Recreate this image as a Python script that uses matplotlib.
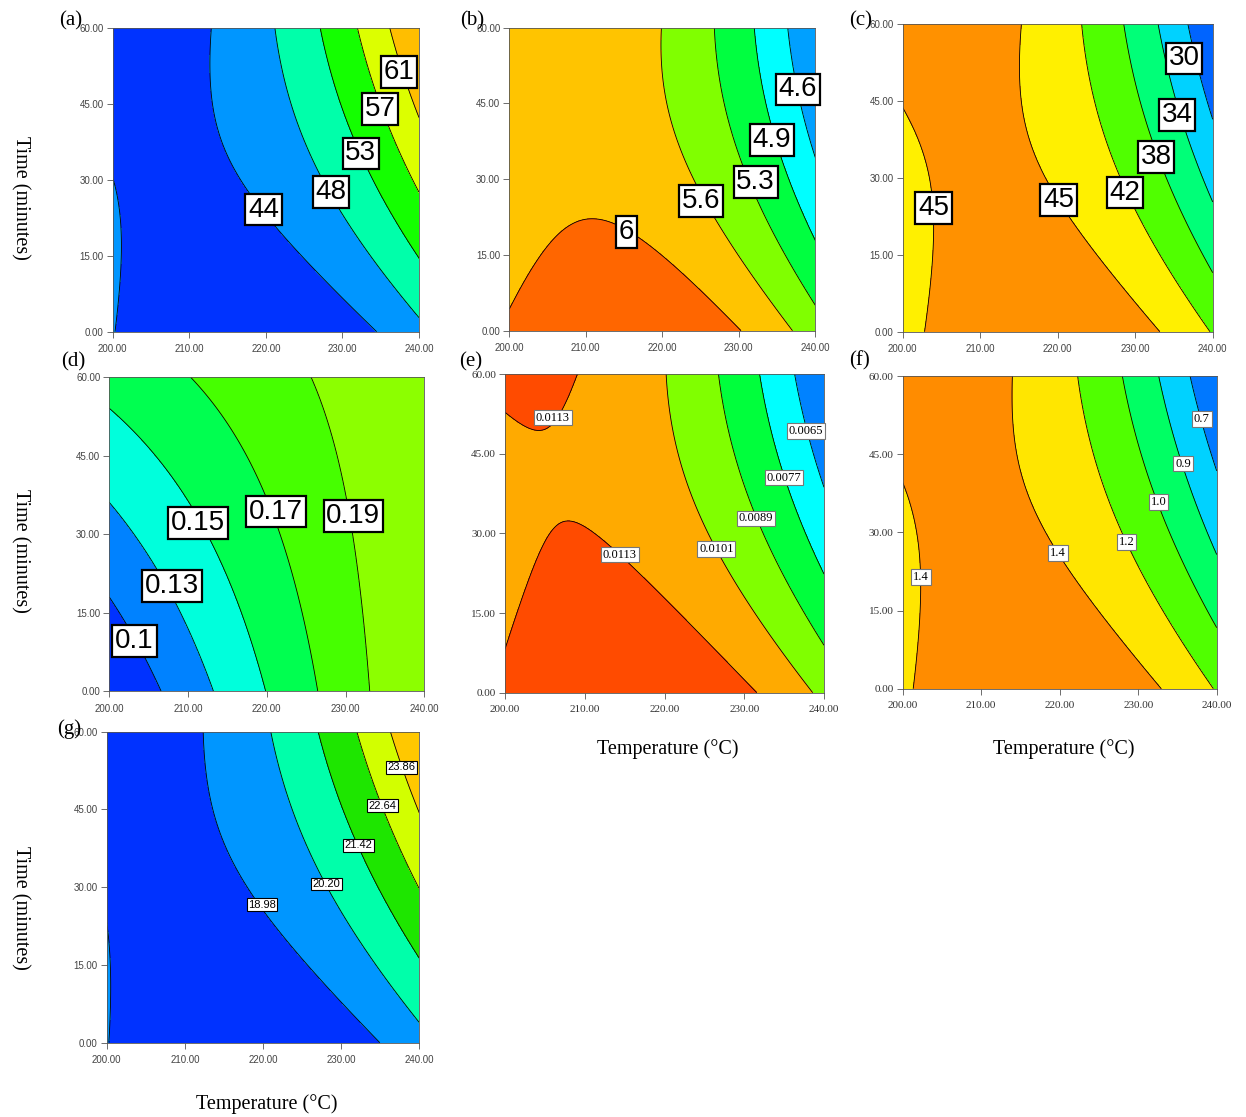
import numpy as np
import matplotlib
matplotlib.use("Agg")
import matplotlib.pyplot as plt

# ---------------- data ----------------
# Contour levels of each panel, and points (Temperature degC, Time min) lying on each contour line.
a_levels = [43.9, 48.2, 52.5, 56.8, 61.1]
a_T = [[200.0, 201.0, 200.35, 212.5, 213.1, 217.9, 222.3, 228.4, 234.0],
       [221.2, 223.2, 226.6, 231.0, 235.3, 240.0],
       [227.2, 229.7, 233.2, 234.5, 240.0],
       [232.1, 234.9, 237.5, 240.0],
       [236.3, 237.4, 240.0]]
a_t = [[31.3, 20.7, 0.0, 60.0, 45.7, 29.3, 19.4, 9.5, 0.0],
       [60.0, 45.7, 32.6, 19.4, 12.8, 3.0],
       [60.0, 45.7, 32.6, 26.0, 14.8],
       [60.0, 43.9, 35.9, 28.0],
       [60.0, 51.3, 43.1]]
a_colors = ["#0033ff", "#0096ff", "#00ffaa", "#14ff00", "#dcff00", "#ffbe00"]
a_lab_T = [237.4, 234.9, 232.4, 228.5, 219.7]
a_lab_t = [51.3, 43.9, 35.2, 27.6, 24.1]
a_lab_s = ["61", "57", "53", "48", "44"]

b_levels = [4.58, 4.93, 5.28, 5.63, 5.98]
b_T = [[236.3, 237.7, 238.9, 240.0],
       [231.9, 233.4, 234.3, 237.1, 240.0],
       [226.8, 229.3, 232.2, 234.5, 240.0],
       [219.9, 220.1, 223.2, 225.1, 227.1, 232.3, 237.0],
       [200.0, 204.0, 210.3, 212.7, 215.3, 218.0, 223.6, 230.2]]
b_t = [[60.0, 47.8, 39.1, 33.1],
       [60.0, 45.7, 37.8, 28.5, 17.3],
       [60.0, 45.7, 29.5, 19.3, 5.1],
       [60.0, 45.7, 30.5, 25.7, 22.6, 11.4, 0.0],
       [5.7, 14.0, 22.2, 21.8, 19.5, 16.6, 8.7, 0.0]]
b_colors = ["#00a0ff", "#00ffff", "#00ff40", "#80ff00", "#ffc400", "#ff6600"]
b_lab_T = [237.7, 234.3, 232.2, 225.1, 215.3]
b_lab_t = [47.8, 37.8, 29.5, 25.7, 19.5]
b_lab_s = ["4.6", "4.9", "5.3", "5.6", "6"]

c_levels = [30.4, 34.1, 37.8, 41.5, 45.2]
c_T = [[236.6, 238.4, 240.0],
       [233.0, 234.9, 237.5, 240.0],
       [228.5, 230.2, 233.2, 240.0],
       [223.1, 224.0, 227.6, 232.8, 239.7],
       [200.0, 202.2, 203.1, 204.0, 203.0, 215.5, 215.4, 217.7, 222.0, 228.9, 233.3]]
c_t = [[60.0, 51.7, 40.6],
       [60.0, 48.4, 35.4, 25.0],
       [60.0, 45.2, 32.2, 11.4],
       [60.0, 48.4, 32.2, 15.9, 0.0],
       [43.9, 38.7, 25.7, 19.2, 0.0, 60.0, 45.2, 32.2, 22.4, 7.5, 0.0]]
c_colors = ["#0064ff", "#00d2ff", "#00ff78", "#50ff00", "#fff000", "#ff9100"]
c_lab_T = [236.3, 235.4, 232.7, 228.7, 220.1, 204.0]
c_lab_t = [53.3, 42.3, 34.1, 27.1, 25.7, 24.1]
c_lab_s = ["30", "34", "38", "42", "45", "45"]

d_levels = [0.11, 0.13, 0.15, 0.17, 0.19]
d_T = [[200.0, 203.0, 206.6],
       [200.0, 205.6, 209.8, 213.3],
       [200.0, 206.4, 211.5, 215.7, 219.9],
       [210.0, 215.7, 219.6, 222.9, 226.6],
       [225.7, 228.4, 231.0, 233.2]]
d_t = [[17.7, 12.3, 0.0],
       [35.6, 25.1, 9.1, 0.0],
       [53.4, 44.8, 34.6, 18.7, 0.0],
       [60.0, 50.6, 37.8, 21.9, 0.0],
       [60.0, 47.4, 28.2, 0.0]]
d_colors = ["#0032ff", "#0082ff", "#00ffdc", "#00ff50", "#46ff00", "#8cff00"]
d_lab_T = [211.3, 221.2, 231.0, 208.0, 203.2]
d_lab_t = [32.1, 34.3, 33.5, 20.1, 9.6]
d_lab_s = ["0.15", "0.17", "0.19", "0.13", "0.1"]

e_levels = [0.0065, 0.0077, 0.0089, 0.0101, 0.0113]
e_T = [[236.3, 238.2, 240.0],
       [231.8, 234.1, 237.0, 240.0],
       [226.8, 228.6, 232.4, 240.0],
       [220.2, 220.4, 223.6, 229.9, 238.6],
       [200.0, 204.2, 207.3, 209.4, 200.0, 202.7, 208.2, 213.2, 219.4, 225.7, 231.6]]
e_t = [[60.0, 46.9, 37.5],
       [60.0, 46.9, 34.4, 21.5],
       [60.0, 46.9, 31.3, 8.7],
       [60.0, 50.1, 34.4, 18.7, 0.0],
       [51.7, 49.1, 53.8, 60.0, 8.7, 20.0, 30.1, 26.9, 18.7, 9.3, 0.0]]
e_colors = ["#0082ff", "#00ffff", "#00ff3c", "#80ff00", "#ffaa00", "#ff4b00"]
e_lab_T = [206.0, 237.7, 235.0, 231.5, 226.5, 214.4]
e_lab_t = [51.8, 49.3, 40.5, 32.8, 27.1, 26.0]
e_lab_s = ["0.0113", "0.0065", "0.0077", "0.0089", "0.0101", "0.0113"]

f_levels = [0.72, 0.88, 1.04, 1.20, 1.36]
f_T = [[236.5, 238.3, 240.0],
       [232.6, 234.9, 240.0],
       [227.9, 230.2, 233.2, 240.0],
       [222.2, 223.9, 228.5, 233.6, 239.6],
       [200.0, 201.8, 202.3, 201.3, 214.1, 214.1, 217.1, 223.0, 229.4, 233.3]]
f_t = [[60.0, 50.3, 41.3],
       [60.0, 47.1, 25.3],
       [60.0, 47.1, 34.3, 11.9],
       [60.0, 47.1, 29.2, 11.9, 0.0],
       [38.8, 29.8, 21.5, 0.0, 60.0, 47.1, 31.1, 18.3, 6.8, 0.0]]
f_colors = ["#0078ff", "#00d2ff", "#00ff64", "#50ff00", "#ffe600", "#ff8c00"]
f_lab_T = [238.1, 235.7, 232.6, 228.5, 219.8, 202.3]
f_lab_t = [51.8, 43.2, 35.8, 28.2, 26.0, 21.5]
f_lab_s = ["0.7", "0.9", "1.0", "1.2", "1.4", "1.4"]

g_levels = [18.98, 20.20, 21.42, 22.64, 23.86]
g_T = [[200.1, 200.4, 200.4, 212.5, 213.2, 216.2, 220.0, 226.9, 234.8],
       [221.0, 223.0, 226.9, 233.3, 240.0],
       [227.1, 229.4, 233.3, 240.0],
       [232.0, 234.1, 240.0],
       [236.2, 238.0, 240.0]]
g_t = [[21.4, 11.8, 0.0, 60.0, 47.1, 34.3, 25.9, 13.1, 0.0],
       [60.0, 47.1, 34.3, 18.2, 4.1],
       [60.0, 47.1, 34.3, 15.9],
       [60.0, 50.4, 29.5],
       [60.0, 53.6, 43.9]]
g_colors = ["#0032ff", "#0096ff", "#00ffaa", "#1ee600", "#d2ff00", "#ffc800"]
g_lab_T = [237.7, 235.3, 232.2, 228.1, 219.9]
g_lab_t = [53.1, 45.7, 38.1, 30.6, 26.6]
g_lab_s = ["23.86", "22.64", "21.42", "20.20", "18.98"]

x_ticks = [200, 210, 220, 230, 240]
y_ticks = [0, 15, 30, 45, 60]

# ---------------- helpers ----------------
def design(T, t):
    x = (np.asarray(T, dtype=float) - 220.0) / 20.0
    y = (np.asarray(t, dtype=float) - 30.0) / 30.0
    return np.stack([np.ones_like(x), x, y, x * y, x * x, y * y], axis=-1)


def fit_surface(levels, Ts, ts):
    TT, tt, zz = [], [], []
    for L, Tl, tl in zip(levels, Ts, ts):
        TT += list(Tl)
        tt += list(tl)
        zz += [L] * len(Tl)
    coef, *_ = np.linalg.lstsq(design(TT, tt), np.array(zz), rcond=None)
    return coef


W, H = 1246, 1117
fig = plt.figure(figsize=(W / 100, H / 100), dpi=100)

BIG = dict(fontsize=20, family="Liberation Sans",
           bbox=dict(boxstyle="square,pad=0.1", fc="white", ec="black", lw=1.6))
SERIF = dict(fontsize=9, family="Liberation Serif",
             bbox=dict(boxstyle="square,pad=0.15", fc="white", ec="#777777", lw=0.8))
SMALL = dict(fontsize=8, family="Liberation Sans",
             bbox=dict(boxstyle="square,pad=0.12", fc="white", ec="black", lw=0.8))

panels = [
    ("(a)", (112.7, 27.7, 419.0, 331.7), a_levels, a_T, a_t, a_colors, a_lab_T, a_lab_t, a_lab_s, BIG, "sans"),
    ("(b)", (509.3, 27.7, 815.3, 330.7), b_levels, b_T, b_t, b_colors, b_lab_T, b_lab_t, b_lab_s, BIG, "sans"),
    ("(c)", (902.7, 24.0, 1212.7, 331.7), c_levels, c_T, c_t, c_colors, c_lab_T, c_lab_t, c_lab_s, BIG, "sans"),
    ("(d)", (109.3, 377.3, 424.3, 691.0), d_levels, d_T, d_t, d_colors, d_lab_T, d_lab_t, d_lab_s, BIG, "sans"),
    ("(e)", (505.0, 374.0, 824.0, 692.7), e_levels, e_T, e_t, e_colors, e_lab_T, e_lab_t, e_lab_s, SERIF, "serif"),
    ("(f)", (902.7, 376.0, 1216.7, 688.7), f_levels, f_T, f_t, f_colors, f_lab_T, f_lab_t, f_lab_s, SERIF, "serif"),
    ("(g)", (106.7, 731.7, 419.3, 1042.7), g_levels, g_T, g_t, g_colors, g_lab_T, g_lab_t, g_lab_s, SMALL, "sans"),
]
letter_pos = [(71, 21), (472, 21), (861, 21), (73, 362), (471, 362), (860, 361), (69, 729)]

Tg = np.linspace(200, 240, 301)
tg = np.linspace(0, 60, 301)
TT, tt = np.meshgrid(Tg, tg)

for (letter, box, lv, Ts, ts, cols, lT, lt, ls, lstyle, tfont), lp in zip(panels, letter_pos):
    x0, y0, x1, y1 = box
    ax = fig.add_axes([x0 / W, 1 - y1 / H, (x1 - x0) / W, (y1 - y0) / H])
    coef = fit_surface(lv, Ts, ts)
    Z = design(TT, tt) @ coef
    lo = min(Z.min(), min(lv)) - 1.0
    hi = max(Z.max(), max(lv)) + 1.0
    ax.contourf(TT, tt, Z, levels=[lo] + list(lv) + [hi], colors=cols)
    ax.contour(TT, tt, Z, levels=list(lv), colors="black", linewidths=0.6)
    for T, t, s in zip(lT, lt, ls):
        ax.text(T, t, s, ha="center", va="center", zorder=5, **lstyle)
    ax.set_xlim(200, 240)
    ax.set_ylim(0, 60)
    ax.set_xticks(x_ticks)
    ax.set_yticks(y_ticks)
    ax.set_xticklabels(["%.2f" % v for v in x_ticks])
    ax.set_yticklabels(["%.2f" % v for v in y_ticks])
    if tfont == "serif":
        fam, fs, col = "Liberation Serif", 8, "#333333"
    else:
        fam, fs, col = "Liberation Sans", 7, "#444444"
    for lab in ax.get_xticklabels() + ax.get_yticklabels():
        lab.set_family(fam)
        lab.set_fontsize(fs)
        lab.set_color(col)
    ax.tick_params(axis="x", direction="out", length=4.5, width=0.6, color="#555555", pad=4.5)
    ax.tick_params(axis="y", direction="out", length=4.5, width=0.6, color="#555555", pad=2)
    for sp in ax.spines.values():
        sp.set_linewidth(0.6)
        sp.set_color("#555555")
    fig.text(lp[0] / W, 1 - lp[1] / H, letter, ha="center", va="center",
             fontsize=15, family="Liberation Serif")

# axis titles
for yc in (198, 551, 908):
    fig.text(20 / W, 1 - yc / H, "Time (minutes)", rotation=270, ha="center", va="center",
             fontsize=14.5, family="Liberation Serif")
for xc, yc in ((668, 749), (1064, 749), (267, 1104)):
    fig.text(xc / W, 1 - yc / H, "Temperature (\u00b0C)", ha="center", va="center",
             fontsize=14.5, family="Liberation Serif")

fig.savefig("out.png", dpi=100)
